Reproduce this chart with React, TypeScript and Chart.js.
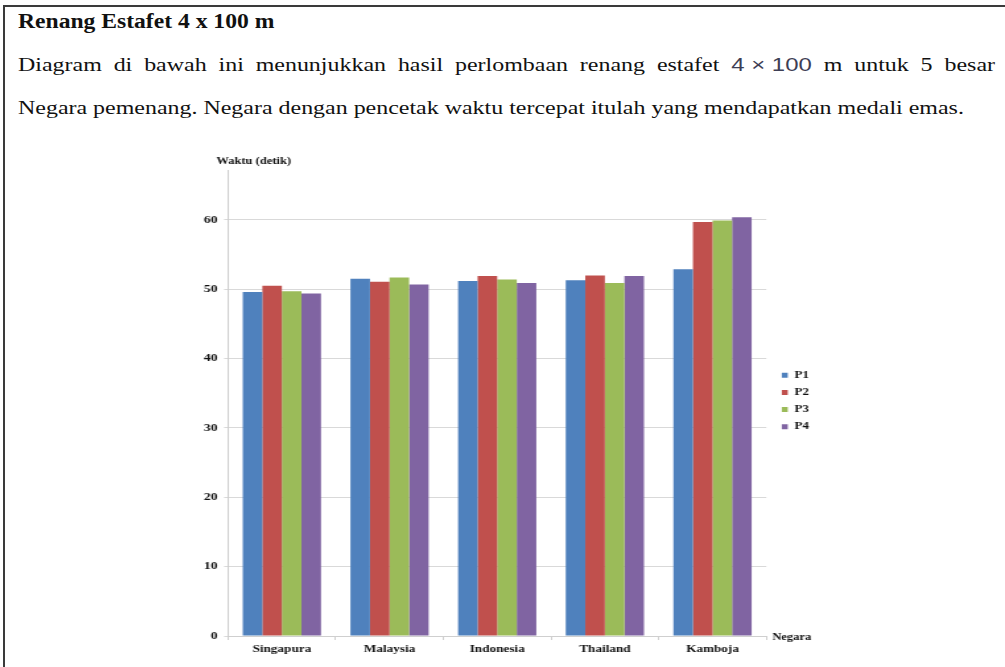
import React, { useEffect, useRef } from "react";
import { Chart, registerables } from "chart.js";

Chart.register(...registerables);

const categories = ["Singapura", "Malaysia", "Indonesia", "Thailand", "Kamboja"];
const seriesNames = ["P1", "P2", "P3", "P4"];
const p1 = [49.6, 51.5, 51.2, 51.3, 52.9];
const p2 = [50.5, 51.1, 51.9, 52.0, 59.7];
const p3 = [49.7, 51.7, 51.4, 50.9, 59.9];
const p4 = [49.4, 50.7, 50.9, 51.9, 60.4];
const yTicks = [0, 10, 20, 30, 40, 50, 60];
const yMax = 67.2;
const seriesColors = ["#4F81BD", "#C0504D", "#9BBB59", "#8064A2"];

const yAxisTitle = "Waktu (detik)";
const xAxisTitle = "Negara";
const heading = "Renang Estafet 4 x 100 m";
const line1a = "Diagram di bawah ini menunjukkan hasil perlombaan renang estafet";
const line1math = "4\u00a0×\u00a0100";
const line1b = "m untuk 5 besar";
const line2 = "Negara pemenang. Negara dengan pencetak waktu tercepat itulah yang mendapatkan medali emas.";

const SERIF = "'Liberation Serif', 'Times New Roman', serif";
const CHART_SX = 1.32;
const TEXT_SX = 1.33;

const axisTextPlugin = {
  id: "axisText",
  afterLayout(chart: any) {
    const lg = chart.legend;
    if (lg) {
      lg.left += 4.5;
      lg.right += 4.5;
      lg.top -= 2;
      lg.bottom -= 2;
    }
  },
  afterDraw(chart: any) {
    const { ctx, chartArea } = chart;
    ctx.save();
    ctx.font = `bold 9.5px ${SERIF}`;
    ctx.fillStyle = "#111";
    ctx.textBaseline = "middle";
    ctx.textAlign = "left";
    ctx.fillText(yAxisTitle, chartArea.left - 9, chartArea.top - 8);
    ctx.fillText(xAxisTitle, chartArea.right + 4.5, chartArea.bottom + 1.5);
    ctx.restore();
  },
};

function BarChart() {
  const ref = useRef<HTMLCanvasElement | null>(null);
  useEffect(() => {
    if (!ref.current) return;
    const seriesData = [p1, p2, p3, p4];
    const chart = new Chart(ref.current, {
      type: "bar",
      data: {
        labels: categories,
        datasets: seriesNames.map((name, i) => ({
          label: name,
          data: seriesData[i],
          backgroundColor: seriesColors[i],
          borderWidth: 0,
          categoryPercentage: 0.727,
          barPercentage: 1.0,
        })),
      },
      options: {
        animation: false,
        responsive: false,
        maintainAspectRatio: false,
        devicePixelRatio: 1,
        layout: { padding: { top: 20, right: 10, left: 0, bottom: 0 } },
        plugins: {
          legend: {
            position: "right",
            fullSize: false,
            labels: {
              boxWidth: 4.5,
              boxHeight: 5,
              padding: 7.2,
              color: "#111",
              font: { family: SERIF, size: 10, weight: "bold" },
            },
          },
          tooltip: { enabled: false },
        },
        scales: {
          x: {
            grid: {
              display: true,
              drawOnChartArea: false,
              tickLength: 4,
              color: "#cfcfcf",
              offset: true,
            },
            border: { color: "#cfcfcf" },
            ticks: {
              color: "#111",
              padding: 3,
              maxRotation: 0,
              autoSkip: false,
              font: { family: SERIF, size: 10, weight: "bold" },
            },
            afterFit: (s: any) => {
              s.height = 24;
            },
          },
          y: {
            min: 0,
            max: yMax,
            afterBuildTicks: (s: any) => {
              s.ticks = yTicks.map((v) => ({ value: v }));
            },
            grid: { color: "#d9d9d9", tickLength: 3 },
            border: { color: "#cfcfcf" },
            ticks: {
              color: "#111",
              padding: 5,
              font: { family: SERIF, size: 10.5, weight: "bold" },
            },
            afterFit: (s: any) => {
              s.width = 36.4;
            },
          },
        },
      },
      plugins: [axisTextPlugin],
    } as any);
    return () => chart.destroy();
  }, []);
  return (
    <div
      style={{
        position: "absolute",
        left: 180,
        top: 150,
        width: 492,
        height: 510,
        transform: `scaleX(${CHART_SX})`,
        transformOrigin: "0 0",
      }}
    >
      <canvas ref={ref} width={492} height={510} style={{ width: 492, height: 510, display: "block" }} />
    </div>
  );
}

export default function App() {
  return (
    <div
      style={{
        position: "absolute",
        left: 0,
        top: 0,
        width: 1005,
        height: 667,
        overflow: "hidden",
        background: "#fff",
        fontFamily: SERIF,
        color: "#111",
      }}
    >
      <div
        style={{
          position: "absolute",
          left: 3,
          top: 5,
          width: 1100,
          height: 800,
          borderTop: "2px solid #3a3a3a",
          borderLeft: "2px solid #3a3a3a",
        }}
      />
      <div
        style={{
          position: "absolute",
          left: 18,
          top: 10,
          fontSize: 20,
          lineHeight: "22px",
          fontWeight: "bold",
          whiteSpace: "nowrap",
          transform: "scaleX(1.18)",
          transformOrigin: "0 0",
        }}
      >
        {heading}
      </div>
      <div
        style={{
          position: "absolute",
          left: 18,
          top: 55,
          width: 977 / TEXT_SX,
          fontSize: 18,
          lineHeight: "20px",
          textAlign: "justify",
          textAlignLast: "justify",
          transform: `scaleX(${TEXT_SX})`,
          transformOrigin: "0 0",
        }}
      >
        {line1a}{" "}
        <span
          style={{
            display: "inline-block",
            fontFamily: "'Liberation Sans', Arial, sans-serif",
            fontSize: 18,
            color: "#3e3e55",
          }}
        >
          {line1math}
        </span>{" "}
        {line1b}
      </div>
      <div
        style={{
          position: "absolute",
          left: 18,
          top: 98,
          fontSize: 18,
          lineHeight: "20px",
          whiteSpace: "nowrap",
          transform: `scaleX(${TEXT_SX})`,
          transformOrigin: "0 0",
        }}
      >
        {line2}
      </div>
      <BarChart />
    </div>
  );
}
